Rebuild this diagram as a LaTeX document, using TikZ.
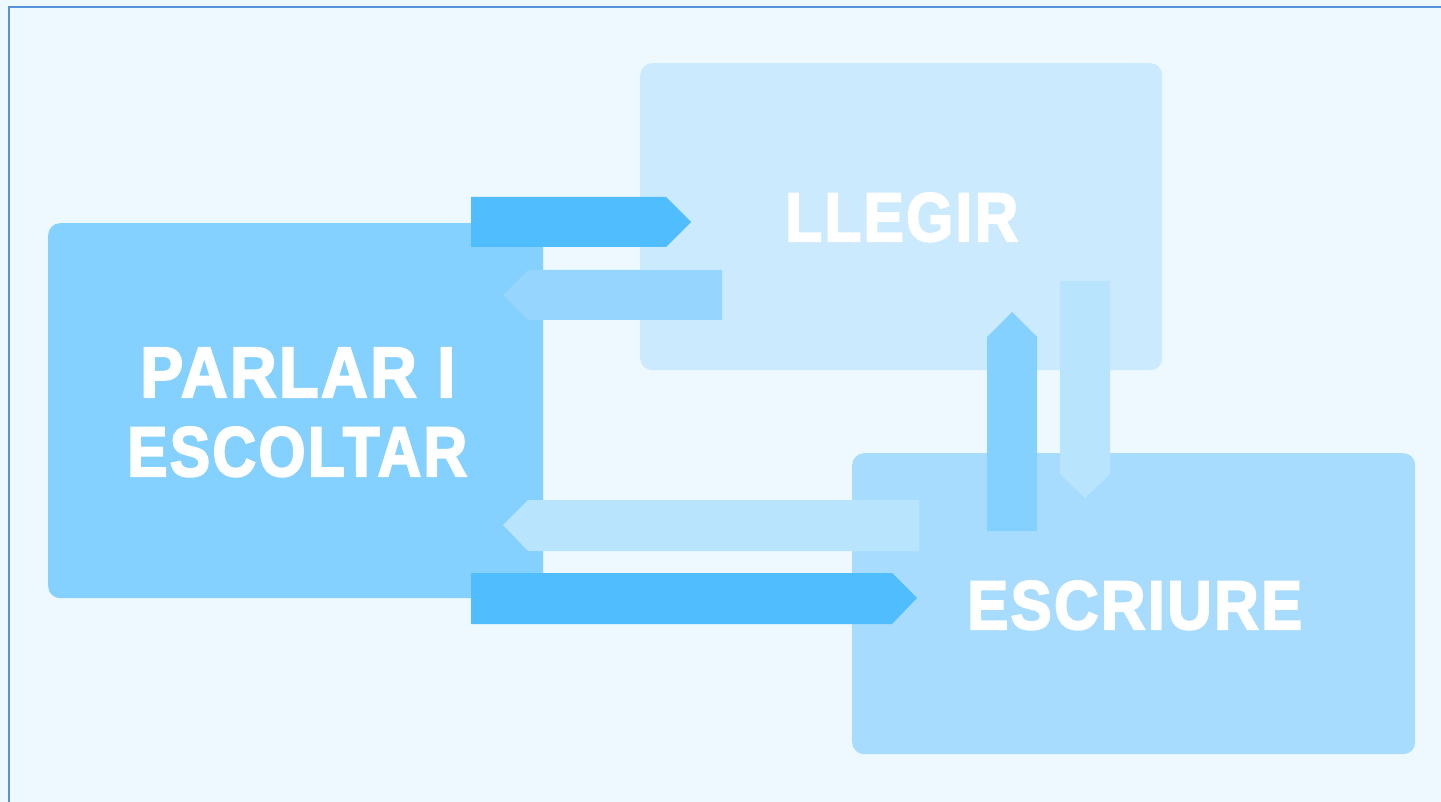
\documentclass[tikz,border=0pt]{standalone}
\usepackage{fontspec}
\usepackage{graphicx}
\newfontfamily\labelfont[LetterSpace=4,FakeBold=3]{Liberation Sans Bold}
\definecolor{bgc}{HTML}{EEF8FF}
\definecolor{framec}{HTML}{5592DA}
\definecolor{readc}{HTML}{CCEAFE}
\definecolor{speakc}{HTML}{84D0FE}
\definecolor{writec}{HTML}{A8DCFE}
\definecolor{arrdark}{HTML}{50BDFE}
\definecolor{arrmid}{HTML}{96D6FE}
\definecolor{arrup}{HTML}{84D0FE}
\definecolor{arrpale}{HTML}{B8E4FE}
\tikzset{
  panel/.style={rectangle, rounded corners=12pt, inner sep=0pt, draw=none},
  word/.style={inner sep=0pt, text=white, font=\labelfont},
  band/.style={draw=none}
}
\begin{document}
\begin{tikzpicture}[x=1pt,y=-1pt]
\useasboundingbox (0,0) rectangle (1441,802);
\fill[bgc] (0,0) rectangle (1441,802);
\fill[framec] (8,6) rectangle (1441,8);
\fill[framec] (8,6) rectangle (10,802);
% panels
\node[panel, fill=readc, minimum width=522pt, minimum height=307pt, anchor=north west] (read) at (640,63) {};
\node[panel, fill=speakc, minimum width=495pt, minimum height=375pt, anchor=north west] (speak) at (48,223) {};
\node[panel, fill=writec, minimum width=563pt, minimum height=301pt, anchor=north west] (write) at (852,453) {};
% labels
\node[word, anchor=base west] (tread) at (785,241) {\resizebox{233pt}{48pt}{LLEGIR}};
\node[word, anchor=base west] (tspeak1) at (140,397) {\resizebox{315pt}{49pt}{PARLAR I}};
\node[word, anchor=base west] (tspeak2) at (127,476) {\resizebox{340pt}{49pt}{ESCOLTAR}};
\node[word, anchor=base west] (twrite) at (967,629) {\resizebox{335pt}{48pt}{ESCRIURE}};
% arrows
\fill[arrdark, band] (471,197) -- (666,197) -- (691,222) -- (666,247) -- (471,247) -- cycle;
\fill[arrmid, band] (722,270) -- (528,270) -- (503,295) -- (528,320) -- (722,320) -- cycle;
\fill[arrpale, band] (1060,281) -- (1110,281) -- (1110,474) -- (1085,498) -- (1060,474) -- cycle;
\fill[arrup, band] (987,531) -- (987,337) -- (1012,312) -- (1037,337) -- (1037,531) -- cycle;
\fill[arrpale, band] (919,500) -- (528,500) -- (503,525) -- (528,551) -- (919,551) -- cycle;
\fill[arrdark, band] (471,573) -- (892,573) -- (917,598) -- (892,624) -- (471,624) -- cycle;
\end{tikzpicture}
\end{document}
